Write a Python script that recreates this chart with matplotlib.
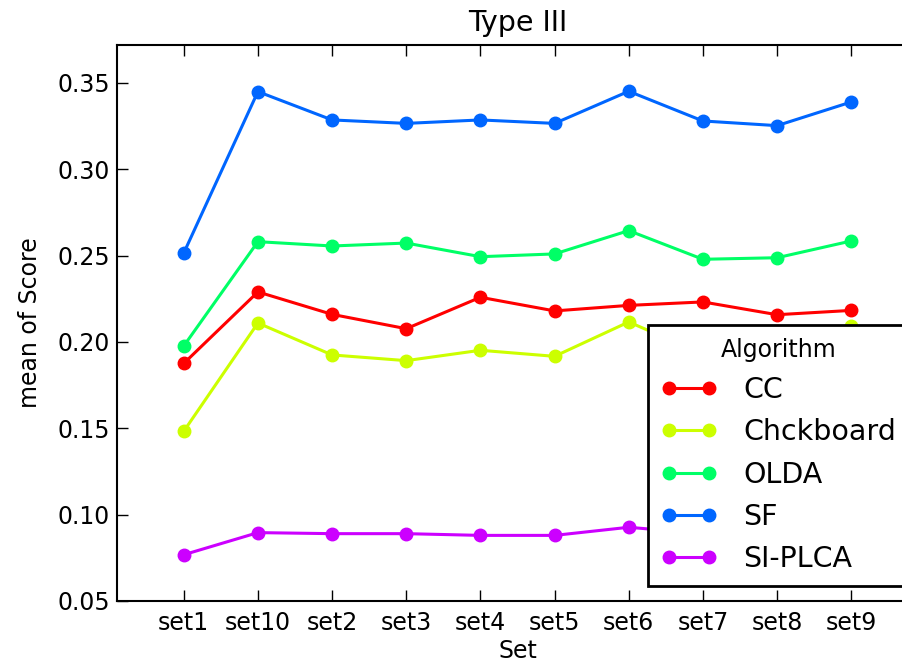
import matplotlib
matplotlib.use("Agg")
from matplotlib import pyplot as plt

sets = ['set1', 'set10', 'set2', 'set3', 'set4', 'set5', 'set6', 'set7', 'set8', 'set9']
algorithms = ['CC', 'Chckboard', 'OLDA', 'SF', 'SI-PLCA']
cc = [0.1876, 0.2290, 0.2160, 0.2077, 0.2259, 0.2180, 0.2212, 0.2232, 0.2158, 0.2183]
chckboard = [0.1483, 0.2110, 0.1925, 0.1892, 0.1952, 0.1917, 0.2116, 0.1930, 0.1920, 0.2090]
olda = [0.1977, 0.2581, 0.2556, 0.2573, 0.2494, 0.2510, 0.2645, 0.2479, 0.2488, 0.2585]
sf = [0.2515, 0.3450, 0.3286, 0.3266, 0.3286, 0.3266, 0.3452, 0.3280, 0.3253, 0.3390]
siplca = [0.0768, 0.0896, 0.0890, 0.0890, 0.0880, 0.0880, 0.0927, 0.0890, 0.0888, 0.0890]
colors = ['#ff0000', '#ccff00', '#00ff66', '#0066ff', '#cc00ff']

fig = plt.figure(figsize=(9.03, 6.66), dpi=100)
ax = fig.add_axes([117/903, 65/666, 801/903, 556/666])

x = list(range(len(sets)))
for name, vals, c in zip(algorithms, [cc, chckboard, olda, sf, siplca], colors):
    ax.plot(x, vals, color=c, lw=2.2, marker='o', markersize=9, label=name)

ax.set_xlim(-0.9, 9.9)
ax.set_ylim(0.05, 0.372)
ax.set_xticks(x)
ax.set_xticklabels(sets)
ax.set_yticks([0.05, 0.10, 0.15, 0.20, 0.25, 0.30, 0.35])
ax.set_yticklabels(['%.2f' % v for v in [0.05, 0.10, 0.15, 0.20, 0.25, 0.30, 0.35]])
ax.tick_params(direction='in', length=8, width=1, top=True, right=True, labelsize=17)
ax.tick_params(axis='y', pad=5)
ax.tick_params(axis='x', pad=7)
for s in ax.spines.values():
    s.set_linewidth(1.5)

ax.set_title('Type III', fontsize=20.5, pad=10)
ax.set_xlabel('Set', fontsize=17, labelpad=3)
ax.set_ylabel('mean of Score', fontsize=17, labelpad=11)

leg = ax.legend(title='Algorithm', loc='upper left',
                bbox_to_anchor=(648/903, 1 - 325/666), bbox_transform=fig.transFigure,
                fontsize=20.5, title_fontsize=17, fancybox=False, framealpha=1,
                edgecolor='black', borderpad=0.45, labelspacing=0.5, numpoints=2,
                handlelength=2.0, handletextpad=0.9, borderaxespad=0)
leg.get_frame().set_linewidth(2)

fig.savefig('out.png', dpi=100)
